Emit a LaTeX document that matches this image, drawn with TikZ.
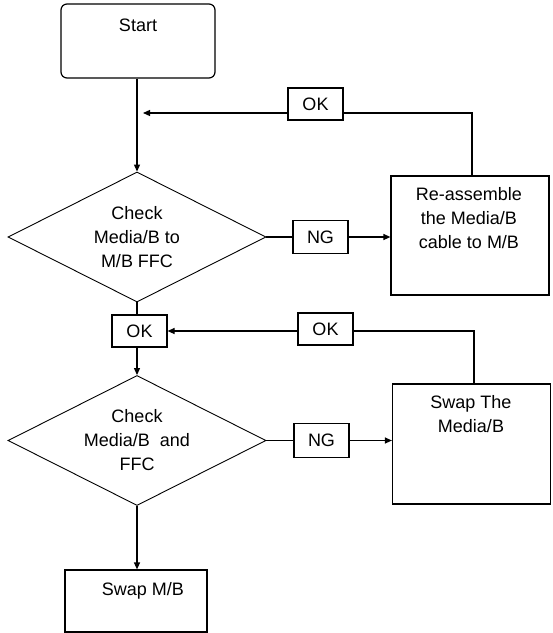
\documentclass[tikz,border=0pt]{standalone}
\usepackage{fontspec}
\setmainfont{Liberation Sans}
\usetikzlibrary{arrows.meta,shapes.geometric,calc}
\begin{document}
\begin{tikzpicture}[x=1pt,y=-1pt,
  line width=1.2pt,
  every node/.style={font=\fontsize{18}{24}\selectfont},
  box/.style={draw,line width=1.2pt,inner sep=0pt,minimum width=#1},
  lbl/.style={draw,line width=1.2pt,inner sep=0pt,minimum width=55pt,minimum height=32pt},
  dec/.style={draw,diamond,aspect=2,inner sep=0pt,minimum width=258pt,minimum height=130pt,align=center,line width=0.9pt},
  txt/.style={align=center,inner sep=0pt,anchor=north},
  arr/.style={-{Triangle[length=7pt,width=6pt]}},
  ln/.style={line width=1.2pt}]
\useasboundingbox (0,0) rectangle (553,633);

% left column
\node[box=154pt,minimum height=74pt,rounded corners=6pt] (start) at (138,41) {};
\node[txt] (starttxt) at (138,18) {Start};

\node[dec] (d1) at (137,237) {Check\\Media/B to\\M/B FFC};
\node[lbl] (ok1) at (139.5,331) {OK};
\node[dec] (d2) at (137,440.5) {Check\\Media/B~~and\\FFC};
\node[box=142pt,minimum height=62pt] (swapmb) at (136,601) {};
\node[txt] (swapmbtxt) at (143,582) {Swap M/B};

% right column
\node[lbl] (okr1) at (315.5,104) {OK};
\node[box=158pt,minimum height=119pt] (ra) at (470,235.5) {};
\node[txt] (ratxt) at (469,187) {Re-assemble\\the Media/B\\cable to M/B};
\node[lbl,minimum height=33pt] (ng1) at (320.5,237) {NG};

\node[lbl] (okr2) at (325.5,329) {OK};
\node[box=158pt,minimum height=120pt] (sw) at (471.5,444) {};
\node[txt] (swtxt) at (471,395) {Swap The\\Media/B};
\node[lbl,minimum height=34pt] (ng2) at (321.5,440.5) {NG};

% helper coordinates
\coordinate (r1) at (472,113);
\coordinate (j1) at (143,113);
\coordinate (r2) at (474,331);

% connectors
\draw[ln,arr] (start.south -| d1.north) -- (d1.north);
\draw[ln] (d1.east) -- (ng1.west);
\draw[ln,arr] (ng1.east) -- (ra.west |- ng1.east);
\draw[ln] (ra.north -| r1) -- (r1) -- (r1 -| okr1.east);
\draw[ln,arr] (okr1.west |- r1) -- (j1);

\draw[ln] (d1.south) -- (ok1.north -| d1.south);
\draw[ln,arr] (ok1.south -| d2.north) -- (d2.north);
\draw[ln] (d2.east) -- (ng2.west);
\draw[ln,arr] (ng2.east) -- (sw.west |- ng2.east);
\draw[ln] (sw.north -| r2) -- (r2) -- (r2 -| okr2.east);
\draw[ln,arr] (okr2.west |- r2) -- (ok1.east |- r2);
\draw[ln,arr] (d2.south) -- (swapmb.north -| d2.south);
\end{tikzpicture}
\end{document}
